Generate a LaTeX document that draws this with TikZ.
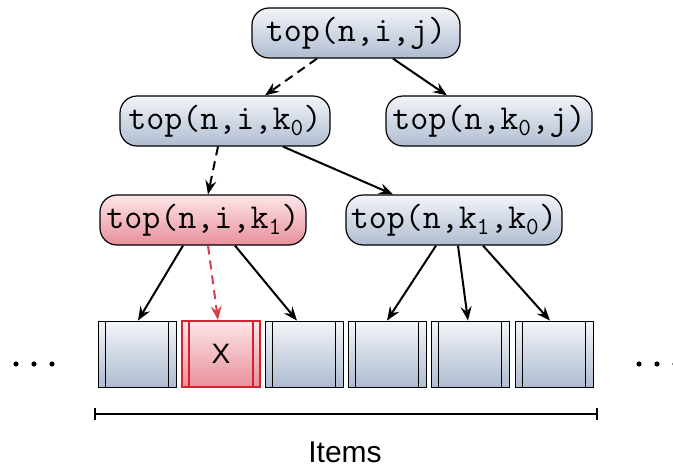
\documentclass[tikz,border=0pt]{standalone}
\usepackage{fontspec}
\setmainfont{Liberation Sans}
\usetikzlibrary{arrows.meta}
\definecolor{bluetop}{HTML}{F2F5F9}
\definecolor{bluebot}{HTML}{AFBCD0}
\definecolor{redtop}{HTML}{FCE6E8}
\definecolor{redbot}{HTML}{E8909B}
\definecolor{redline}{HTML}{D7232F}
\definecolor{reddash}{HTML}{D6404A}
\tikzset{
  fn/.style={draw=black, line width=1.2pt, rounded corners=17pt, top color=bluetop, bottom color=bluebot,
    minimum height=50pt, inner xsep=4pt, font=\ttfamily\fontsize{35}{35}\selectfont},
  fnred/.style={fn, top color=redtop, bottom color=redbot},
  item/.style={draw=black, line width=0.8pt, top color=bluetop, bottom color=bluebot, minimum width=78pt, minimum height=66pt, inner sep=0pt},
  itemred/.style={item, draw=redline, line width=2pt, top color=redtop, bottom color=redbot, font=\fontsize{28}{28}\selectfont},
  arr/.style={line width=2pt, -{Stealth[length=14pt,width=11pt,inset=5pt]}},
  darr/.style={arr, dash pattern=on 9pt off 6pt},
  rdarr/.style={darr, draw=reddash},
}
\begin{document}
\begin{tikzpicture}[x=1pt,y=-1pt]
\useasboundingbox (0,0) rectangle (673,469);
\node[fn, minimum width=208pt] (a) at (356,33) {top(n,i,j)};
\node[fn, minimum width=210pt] (b) at (225,121) {top(n,i,k\textsubscript{0})};
\node[fn, minimum width=206pt] (c) at (489,121) {top(n,k\textsubscript{0},j)};
\node[fnred, minimum width=206pt] (d) at (203,220) {top(n,i,k\textsubscript{1})};
\node[fn, minimum width=216pt] (e) at (454,220) {top(n,k\textsubscript{1},k\textsubscript{0})};

\node[item] (i1) at (137,354) {};
\node[itemred] (i2) at (221,354) {X};
\node[item] (i3) at (304,354) {};
\node[item] (i4) at (387,354) {};
\node[item] (i5) at (470,354) {};
\node[item] (i6) at (554,354) {};
\foreach \n in {i1,i3,i4,i5,i6}{
  \draw[line width=0.8pt] ([xshift=8pt]\n.north west) -- ([xshift=8pt]\n.south west);
  \draw[line width=0.8pt] ([xshift=-8pt]\n.north east) -- ([xshift=-8pt]\n.south east);
}
\draw[line width=2pt, redline] ([xshift=8pt]i2.north west) -- ([xshift=8pt]i2.south west);
\draw[line width=2pt, redline] ([xshift=-8pt]i2.north east) -- ([xshift=-8pt]i2.south east);

\foreach \x in {16,34,52,639,657,675}{
  \fill (\x,364) circle (2.6pt);
}

\coordinate (bl) at (95,414);
\coordinate (br) at (597,414);
\draw[line width=1.5pt] (bl) -- (br);
\draw[line width=1.5pt] ([yshift=-6pt]bl) -- ([yshift=6pt]bl);
\draw[line width=1.5pt] ([yshift=-6pt]br) -- ([yshift=6pt]br);
\node[font=\fontsize{30}{30}\selectfont] (lbl) at (345,452) {Items};

\draw[darr] ([xshift=-39pt]a.south) -- ([xshift=40pt]b.north);
\draw[arr] ([xshift=37pt]a.south) -- ([xshift=-42pt]c.north);
\draw[darr] ([xshift=-7pt]b.south) -- ([xshift=5pt]d.north);
\draw[arr] ([xshift=58pt]b.south) -- ([xshift=-61pt]e.north);
\draw[arr] ([xshift=-20pt]d.south) -- ([xshift=1pt]i1.north);
\draw[rdarr] ([xshift=5pt]d.south) -- ([xshift=-3pt]i2.north);
\draw[arr] ([xshift=32pt]d.south) -- ([xshift=-7pt]i3.north);
\draw[arr] ([xshift=-18pt]e.south) -- ([xshift=0pt]i4.north);
\draw[arr] ([xshift=4pt]e.south) -- ([xshift=-2pt]i5.north);
\draw[arr] ([xshift=29pt]e.south) -- ([xshift=-4pt]i6.north);
\end{tikzpicture}
\end{document}
